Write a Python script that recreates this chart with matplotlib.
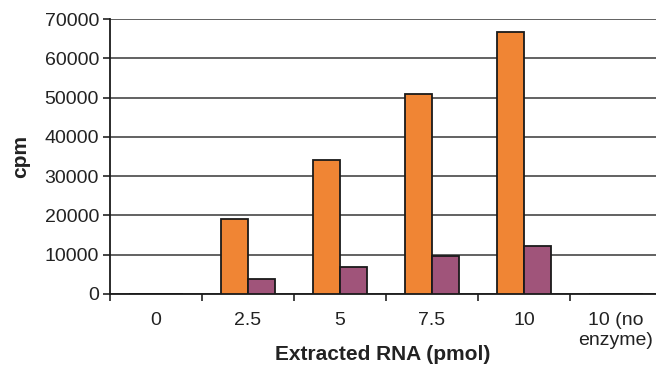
import matplotlib
matplotlib.use("Agg")
import matplotlib.pyplot as plt
import numpy as np

categories = ["0", "2.5", "5", "7.5", "10", "10 (no\nenzyme)"]
series_orange = [0, 19000, 34000, 51000, 66600, 0]
series_purple = [0, 3800, 6900, 9700, 12100, 0]
yticks = [0, 10000, 20000, 30000, 40000, 50000, 60000, 70000]

plt.rcParams['font.family'] = ['Liberation Sans', 'DejaVu Sans']

fig = plt.figure(figsize=(6.56, 3.69), dpi=100)
ax = fig.add_axes([110/656, 75/369, 1 - 110/656, (294-19)/369])

x = np.arange(len(categories))
w = 0.29
ax.bar(x - w/2, series_orange, width=w, color="#F08534", edgecolor="#1a1a1a", linewidth=1.3, zorder=3)
ax.bar(x + w/2, series_purple, width=w, color="#A0547A", edgecolor="#1a1a1a", linewidth=1.3, zorder=3)

ax.set_ylim(0, 70000)
ax.set_xlim(-0.5, -0.5 + 546/92)
ax.set_yticks(yticks)
ax.set_yticklabels([str(v) for v in yticks], fontsize=14, color="#222222")
ax.yaxis.grid(True, color="#555555", linewidth=1.3, zorder=0)
ax.set_axisbelow(True)

ax.set_xticks(x)
ax.set_xticklabels(categories, fontsize=14, color="#222222", linespacing=1.2)
ax.set_xticks(np.arange(-0.5, 5, 1.0), minor=True)
ax.tick_params(axis='x', which='major', length=0, pad=13)
ax.tick_params(axis='x', which='minor', length=5, width=1.2, color="#222222")
ax.tick_params(axis='y', length=5, width=1.2, color="#222222", pad=3)

for s in ["top", "right"]:
    ax.spines[s].set_visible(False)
for s in ["left", "bottom"]:
    ax.spines[s].set_color("#1a1a1a")
    ax.spines[s].set_linewidth(1.3)

ax.set_ylabel("cpm", fontsize=15, fontweight="bold", color="#222222")
ax.yaxis.set_label_coords(-80/546, 0.5)
ax.set_xlabel("Extracted RNA (pmol)", fontsize=15, fontweight="bold", va="center", color="#222222")
ax.xaxis.set_label_coords(0.5, -(355 - 294)/275)

fig.savefig("out.png", dpi=100)
